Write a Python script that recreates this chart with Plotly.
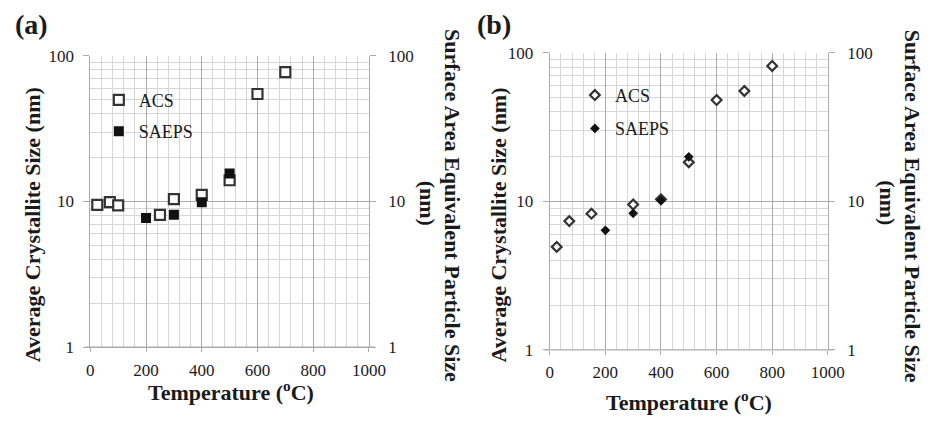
import plotly.graph_objects as go

# Panel (a): squares
temp_acs_a = [25, 70, 100, 250, 300, 400, 500, 600, 700]
acs_a = [9.5, 9.9, 9.4, 8.1, 10.4, 11.1, 14.0, 54.7, 77.4]
temp_saeps_a = [200, 300, 400, 500]
saeps_a = [7.7, 8.1, 9.9, 15.6]

# Panel (b): diamonds
temp_acs_b = [25, 70, 150, 300, 400, 500, 600, 700, 800]
acs_b = [4.93, 7.35, 8.25, 9.5, 10.3, 18.3, 48.0, 55.2, 81.4]
temp_saeps_b = [200, 300, 400, 500]
saeps_b = [6.37, 8.3, 10.15, 19.9]

x_ticks = [0, 200, 400, 600, 800, 1000]
y_ticks = [1, 10, 100]

W, H = 936, 427
FONT = "Liberation Serif"
MAJOR = "#ababab"
MINOR = "#d6d6d6"
INK = "#1a1a1a"


def px(x):
    return x / W


def py(y):
    return 1 - y / H


fig = go.Figure()

# ---- panel (a) ----
fig.add_trace(go.Scatter(
    x=temp_acs_a, y=acs_a, mode="markers", name="ACS",
    legend="legend", legendgroup="acs_a",
    marker=dict(symbol="square", size=10, color="white",
                line=dict(color="#333333", width=2.2)),
    xaxis="x", yaxis="y"))
fig.add_trace(go.Scatter(
    x=temp_saeps_a, y=saeps_a, mode="markers", name="SAEPS",
    legend="legend", legendgroup="saeps_a",
    marker=dict(symbol="square", size=10, color="#111111",
                line=dict(width=0)),
    xaxis="x", yaxis="y"))

# ---- panel (b) ----
fig.add_trace(go.Scatter(
    x=temp_acs_b, y=acs_b, mode="markers", name="ACS",
    legend="legend2", legendgroup="acs_b",
    marker=dict(symbol="diamond", size=7.5, color="white",
                line=dict(color="#333333", width=2.2)),
    xaxis="x2", yaxis="y2"))
fig.add_trace(go.Scatter(
    x=temp_saeps_b, y=saeps_b, mode="markers", name="SAEPS",
    legend="legend2", legendgroup="saeps_b",
    marker=dict(symbol="diamond", size=7.5, color="#111111",
                line=dict(width=0)),
    xaxis="x2", yaxis="y2"))

# empty traces so the secondary (right) axes get drawn
fig.add_trace(go.Scatter(x=[None], y=[None], xaxis="x", yaxis="y3",
                         showlegend=False, hoverinfo="skip"))
fig.add_trace(go.Scatter(x=[None], y=[None], xaxis="x2", yaxis="y4",
                         showlegend=False, hoverinfo="skip"))

tickfont = dict(family=FONT, size=17, color=INK)

xcommon = dict(
    range=[0, 1000], tickvals=x_ticks, ticks="outside", ticklen=4,
    tickcolor=MAJOR, showgrid=True, gridcolor=MAJOR, gridwidth=1,
    zeroline=False, showline=False, tickfont=tickfont, ticklabelstandoff=3,
    minor=dict(dtick=40, showgrid=True, gridcolor=MINOR, gridwidth=1),
)
ycommon = dict(
    type="log", range=[0, 2], tickvals=y_ticks, ticktext=["1", "10", "100"],
    ticks="outside", ticklen=6, tickcolor=MAJOR, showgrid=True,
    gridcolor=MAJOR, gridwidth=1, zeroline=False, showline=True,
    linecolor=MAJOR, linewidth=1, tickfont=tickfont, ticklabelstandoff=6,
    minor=dict(dtick="D1", showgrid=True, gridcolor=MINOR, gridwidth=1),
)
yright = dict(
    type="log", range=[0, 2], tickvals=y_ticks, ticktext=["1", "10", "100"],
    ticks="outside", ticklen=6, tickcolor=MAJOR, showgrid=False,
    zeroline=False, showline=True, linecolor=MAJOR, linewidth=1,
    side="right", tickfont=tickfont, ticklabelstandoff=9,
)

dom_xa = [px(88.3), px(373.3)]
dom_ya = [py(354), py(49)]
dom_xb = [px(558.3), px(842.7)]
dom_yb = [py(356.7), py(45.7)]

legend_font = dict(family=FONT, size=18, color=INK)
legend_common = dict(
    font=legend_font, bgcolor="rgba(0,0,0,0)", borderwidth=0,
    xanchor="left", yanchor="top", itemwidth=30,
)

fig.update_layout(
    width=W, height=H,
    margin=dict(l=0, r=0, t=0, b=0),
    paper_bgcolor="white", plot_bgcolor="white",
    xaxis=dict(domain=dom_xa, anchor="y", **xcommon),
    yaxis=dict(domain=dom_ya, anchor="x", **ycommon),
    yaxis3=dict(overlaying="y", anchor="x", **yright),
    xaxis2=dict(domain=dom_xb, anchor="y2", **xcommon),
    yaxis2=dict(domain=dom_yb, anchor="x2", **ycommon),
    yaxis4=dict(overlaying="y2", anchor="x2", **yright),
    legend=dict(x=px(97), y=py(76), tracegroupgap=5, **legend_common),
    legend2=dict(x=px(584), y=py(71), tracegroupgap=7, **legend_common),
    showlegend=True,
)

# x-axis baselines, running a little past both ends of the plot area
for xr, yr in (("x domain", "y domain"), ("x2 domain", "y2 domain")):
    fig.add_shape(type="line", xref=xr, yref=yr, x0=-0.02, x1=1.02,
                  y0=0, y1=0, line=dict(color=MAJOR, width=1.3))

title_font = dict(family=FONT, size=22, color=INK)
tag_font = dict(family=FONT, size=28, color=INK)
notes = [
    # panel tags
    dict(text="<b>(a)</b>", x=px(9), y=py(16), xanchor="left", font=tag_font),
    dict(text="<b>(b)</b>", x=px(482), y=py(16), xanchor="left", font=tag_font),
    # x titles
    dict(text="<b>Temperature (<sup>o</sup>C)</b>", x=px(232), y=py(400),
         font=title_font),
    dict(text="<b>Temperature (<sup>o</sup>C)</b>", x=px(701), y=py(410),
         font=title_font),
    # left y titles
    dict(text="<b>Average Crystallite Size (nm)</b>", x=px(30), y=py(226),
         textangle=-90, font=title_font),
    dict(text="<b>Average Crystallite Size (nm)</b>", x=px(506), y=py(226),
         textangle=-90, font=title_font),
    # right y titles, one annotation per line
    dict(text="<b>Surface Area Equivalent Particle Size</b>",
         x=px(458), y=py(206), textangle=90, font=title_font),
    dict(text="<b>(nm)</b>", x=px(433), y=py(203), textangle=90,
         font=title_font),
    dict(text="<b>Surface Area Equivalent Particle Size</b>",
         x=px(929), y=py(206), textangle=90, font=title_font),
    dict(text="<b>(nm)</b>", x=px(903), y=py(203), textangle=90,
         font=title_font),
]
for n in notes:
    n.setdefault("xanchor", "center")
    fig.add_annotation(xref="paper", yref="paper", showarrow=False,
                       yanchor="middle", **n)

fig.write_html("out.html")
